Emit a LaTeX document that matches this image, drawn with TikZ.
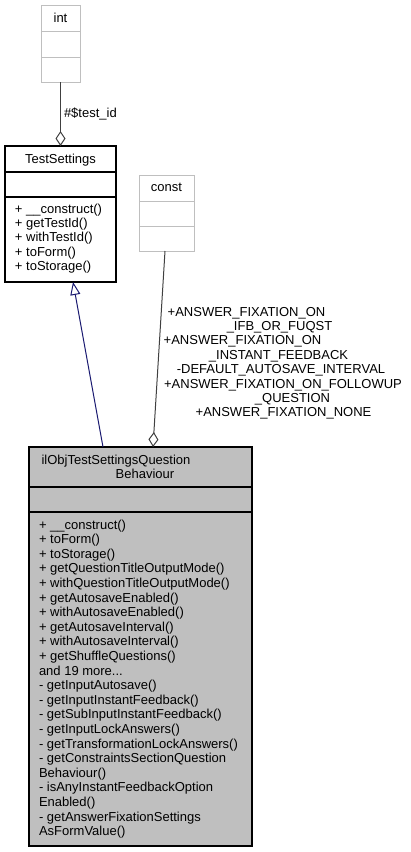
\documentclass[tikz,border=0pt]{standalone}
\usepackage{fontspec}
\setmainfont{Liberation Sans}
\usetikzlibrary{arrows.meta,calc}
\definecolor{boxgray}{HTML}{BFBFBF}
\definecolor{lightborder}{HTML}{BFBFBF}
\definecolor{edgegray}{HTML}{404040}
\definecolor{navyblue}{HTML}{191970}
\begin{document}
\begin{tikzpicture}[x=1pt,y=-1pt,
  every node/.style={font=\fontsize{13}{14.6}\selectfont, inner sep=0pt, outer sep=0pt},
  ctxt/.style={anchor=base},
  ltxt/.style={anchor=base west},
  ghostbox/.style={draw=lightborder, line width=1pt, fill=white},
  classbox/.style={draw=black, line width=1.2pt, fill=white},
  focusbox/.style={draw=black, line width=1.2pt, fill=boxgray},
  sepghost/.style={draw=lightborder, line width=1pt},
  sepblack/.style={draw=black, line width=1.2pt},
  usage/.style={draw=edgegray, line width=1pt, -{Diamond[open,length=15pt,width=10pt,line width=1pt]}},
  inherit/.style={draw=navyblue, line width=1pt, -{Triangle[open,length=13pt,width=10pt,line width=1pt]}}
]
\useasboundingbox (0,0) rectangle (411,852);

% int box
\node[ghostbox, minimum width=39pt, minimum height=77pt] (int) at (60.5,43.5) {};
\draw[sepghost] (41,31) -- (80,31);
\draw[sepghost] (41,57) -- (80,57);
\node[ctxt] (intt) at (60.5,22) {int};

% TestSettings box
\node[classbox, minimum width=111pt, minimum height=136pt] (ts) at (60.5,214) {};
\draw[sepblack] (5,172) -- (116,172);
\draw[sepblack] (5,197) -- (116,197);
\node[ctxt] (tst) at (60.5,163) {TestSettings};
\foreach \t [count=\i from 0] in {+ \_\_construct(), + getTestId(), + withTestId(), + toForm(), + toStorage()}
  \node[ltxt] (tsm\i) at (15,213+14.4*\i) {\t};

% const box
\node[ghostbox, minimum width=55pt, minimum height=76pt] (const) at (166.5,213) {};
\draw[sepghost] (139,201) -- (194,201);
\draw[sepghost] (139,226) -- (194,226);
\node[ctxt] (constt) at (166.5,191) {const};

% ilObjTestSettingsQuestionBehaviour box
\node[focusbox, minimum width=223pt, minimum height=399pt] (ilo) at (140.5,646.5) {};
\draw[sepblack] (29,487) -- (252,487);
\draw[sepblack] (29,512) -- (252,512);
\node[ctxt] (ilot1) at (116,464) {ilObjTestSettingsQuestion};
\node[ctxt] (ilot2) at (145,478.5) {Behaviour};
\foreach \t [count=\i from 0] in {
  {+ \_\_construct()}, {+ toForm()}, {+ toStorage()}, {+ getQuestionTitleOutputMode()},
  {+ withQuestionTitleOutputMode()}, {+ getAutosaveEnabled()}, {+ withAutosaveEnabled()},
  {+ getAutosaveInterval()}, {+ withAutosaveInterval()}, {+ getShuffleQuestions()},
  {and 19 more.{}.{}.}, {- getInputAutosave()}, {- getInputInstantFeedback()},
  {- getSubInputInstantFeedback()}, {- getInputLockAnswers()},
  {- getTransformationLockAnswers()}, {- getConstraintsSectionQuestion},
  {Behaviour()}, {- isAnyInstantFeedbackOption}, {Enabled()},
  {- getAnswerFixationSettings}, {AsFormValue()}}
  \node[ltxt] (ilom\i) at (39,529+14.6*\i) {\t};

% connectors
\draw[usage] (int.south) -- (ts.north);
\node[ltxt] (lbltid) at (64,117) {\#\$test\_id};

\draw[usage] ($(const.south)+(-1.5,0)$) -- ($(ilo.north west)+(124,0)$);
\draw[inherit] ($(ilo.north west)+(74,0)$) -- ($(ts.south west)+(68,0)$);

% const edge labels
\node[ctxt] (cl1) at (246.5,316) {+ANSWER\_FIXATION\_ON};
\node[ctxt] (cl2) at (279.5,330.4) {\_IFB\_OR\_FUQST};
\node[ctxt] (cl3) at (242.5,344.8) {+ANSWER\_FIXATION\_ON};
\node[ctxt] (cl4) at (278.5,359.2) {\_INSTANT\_FEEDBACK};
\node[ctxt] (cl5) at (281,373.6) {-DEFAULT\_AUTOSAVE\_INTERVAL};
\node[ctxt] (cl6) at (283,388) {+ANSWER\_FIXATION\_ON\_FOLLOWUP};
\node[ctxt] (cl7) at (292.5,402.4) {\_QUESTION};
\node[ctxt] (cl8) at (283.5,416.8) {+ANSWER\_FIXATION\_NONE};
\end{tikzpicture}
\end{document}
